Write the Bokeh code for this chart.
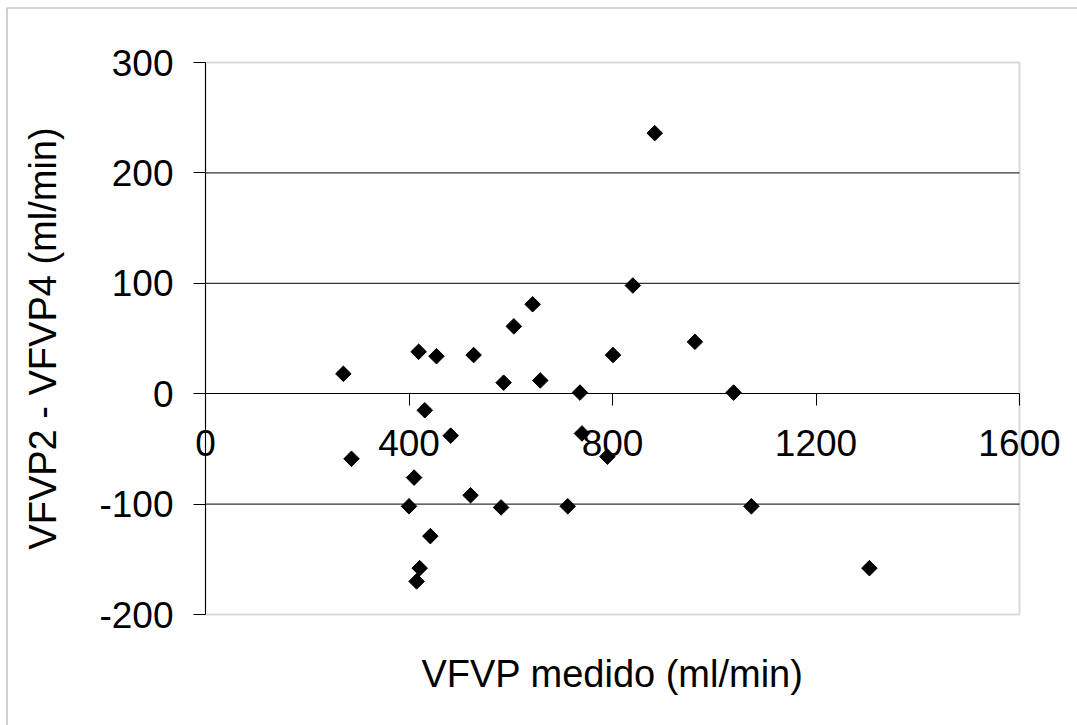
from bokeh.plotting import figure
from bokeh.models import (LinearAxis, FixedTicker, Range1d, PrintfTickFormatter,
                          BoxAnnotation)
from bokeh.embed import file_html
from bokeh.resources import INLINE
import math

# Data
vfvp_medido = [271, 287, 400, 410, 415, 419, 421, 431, 442, 454, 482, 521, 527, 581,
               586, 606, 643, 658, 712, 736, 740, 790, 801, 840, 883, 962, 1038, 1073, 1305]
diferencia = [18, -59, -102, -76, -170, 38, -158, -15, -129, 34, -38, -92, 35, -103,
              10, 61, 81, 12, -102, 1, -36, -57, 35, 98, 236, 47, 1, -102, -158]

x_ticks = [0, 400, 800, 1200, 1600]
y_ticks = [-200, -100, 0, 100, 200, 300]
grid_ticks = [-100, 100, 200]
X_LO, X_HI = 0, 1600
Y_LO, Y_HI = -200, 300

FONT = "Liberation Sans"

# The whole canvas is the frame, so that tick labels and titles that sit
# outside the plot area are not clipped; the plot area is drawn inside it.
W, H = 1077, 725
PA_LEFT, PA_RIGHT, PA_TOP, PA_BOTTOM = 205, 1019, 62, 614   # plot area in pixels
sx = (X_HI - X_LO) / (PA_RIGHT - PA_LEFT)
sy = (Y_HI - Y_LO) / (PA_BOTTOM - PA_TOP)
x_range = Range1d(X_LO - PA_LEFT * sx, X_HI + (W - PA_RIGHT) * sx)
y_range = Range1d(Y_LO - (H - PA_BOTTOM) * sy, Y_HI + PA_TOP * sy)

p = figure(width=W, height=H, output_backend="svg", toolbar_location=None,
           x_range=x_range, y_range=y_range,
           min_border=0, x_axis_location=None, y_axis_location=None)
p.background_fill_color = "white"
p.border_fill_color = "white"
p.outline_line_color = None
p.xgrid.visible = False
p.ygrid.visible = False

# horizontal grid lines inside the plot area
p.segment(x0=[X_LO] * len(grid_ticks), x1=[X_HI] * len(grid_ticks),
          y0=grid_ticks, y1=grid_ticks, line_color="black", line_width=1)

# plot area border
pa = BoxAnnotation(left=X_LO, right=X_HI, bottom=Y_LO, top=Y_HI,
                   fill_color=None, line_color="#808080", line_width=2, level="underlay")
p.add_layout(pa)

# y axis at x = 0
ya = LinearAxis(ticker=FixedTicker(ticks=y_ticks), fixed_location=X_LO, bounds=(Y_LO, Y_HI))
ya.formatter = PrintfTickFormatter(format="%d")
ya.major_tick_out = 12
ya.major_tick_in = 0
ya.minor_tick_out = 0
ya.minor_tick_in = 0
ya.axis_line_color = "black"
ya.major_tick_line_color = "black"
ya.major_label_text_font = FONT
ya.major_label_text_font_size = "37px"
ya.major_label_text_color = "black"
ya.major_label_standoff = 20
ya.axis_label = "VFVP2 - VFVP4 (ml/min)"
ya.axis_label_text_font = FONT
ya.axis_label_text_font_size = "38px"
ya.axis_label_text_font_style = "normal"
ya.axis_label_text_color = "black"
ya.axis_label_standoff = 32
p.add_layout(ya, "left")

# x axis crossing at y = 0
xa = LinearAxis(ticker=FixedTicker(ticks=x_ticks), fixed_location=0, bounds=(X_LO, X_HI))
xa.formatter = PrintfTickFormatter(format="%d")
xa.major_tick_out = 12
xa.major_tick_in = 0
xa.minor_tick_out = 0
xa.minor_tick_in = 0
xa.axis_line_color = "black"
xa.major_tick_line_color = "black"
xa.major_label_text_font = FONT
xa.major_label_text_font_size = "37px"
xa.major_label_text_color = "black"
xa.major_label_standoff = 24
p.add_layout(xa, "below")

# x title, carried by a bare axis along the bottom of the plot area
xt = LinearAxis(ticker=FixedTicker(ticks=[]), fixed_location=Y_LO, bounds=(X_LO, X_HI))
xt.axis_line_color = None
xt.major_tick_line_color = None
xt.minor_tick_line_color = None
xt.major_tick_out = 0
xt.major_label_standoff = 0
xt.axis_label = "VFVP medido (ml/min)"
xt.axis_label_text_font = FONT
xt.axis_label_text_font_size = "38px"
xt.axis_label_text_font_style = "normal"
xt.axis_label_text_color = "black"
xt.axis_label_standoff = 38
p.add_layout(xt, "below")

p.scatter(vfvp_medido, diferencia, marker="square", size=11, angle=math.pi / 4,
          fill_color="black", line_color="black")

# outer chart-area border (its left and top edges are visible)
border = BoxAnnotation(left=6.5, top=H - 7.5, right=5000, bottom=-5000,
                       left_units="screen", right_units="screen",
                       top_units="screen", bottom_units="screen",
                       fill_color=None, line_color="black", line_width=1.2, level="overlay")
p.add_layout(border)

open("out.html", "w").write(file_html(p, INLINE))
